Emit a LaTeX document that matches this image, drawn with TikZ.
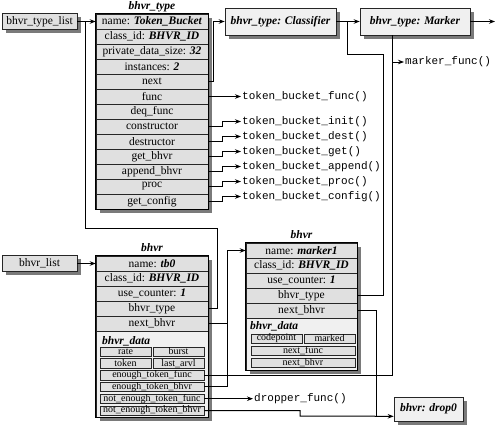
\documentclass[tikz,border=0pt]{standalone}
\usepackage{fontspec}
\setmainfont{Liberation Serif}
\setmonofont{Liberation Mono}
\usetikzlibrary{arrows.meta,calc,shadows}
\definecolor{rowgray}{HTML}{E0E0E0}
\definecolor{boxgray}{HTML}{F0F0F0}
\definecolor{shadowgray}{HTML}{7A7A7A}
\newcommand{\bfit}[1]{\textbf{\textit{#1}}}
\tikzset{
  rowbox/.style={draw=black!85, line width=0.6pt, fill=rowgray, minimum width=112pt, minimum height=15pt, inner sep=0pt, font=\fontsize{11.5}{12}\selectfont},
  mrowbox/.style={rowbox, minimum width=111pt},
  databox/.style={draw=black!85, line width=0.6pt, fill=boxgray, inner sep=0pt},
  innerbox/.style={draw=black!85, line width=0.5pt, fill=rowgray, minimum height=9.5pt, inner sep=0pt, font=\fontsize{10}{10}\selectfont},
  halfbox/.style={innerbox, minimum width=51pt},
  widebox/.style={innerbox, minimum width=104pt},
  title/.style={font=\fontsize{11.5}{12}\selectfont\bfseries\itshape, inner sep=0pt},
  shbox/.style={draw=black!85, line width=0.6pt, inner sep=0pt, drop shadow={shadow xshift=3.5pt, shadow yshift=-3.5pt, fill=shadowgray, opacity=1}},
  listbox/.style={shbox, fill=rowgray, minimum width=75pt, minimum height=16pt, font=\fontsize{11.5}{12}\selectfont},
  typebox/.style={shbox, fill=boxgray, minimum height=27pt, font=\fontsize{11.5}{12}\selectfont\bfseries\itshape},
  funclabel/.style={anchor=west, inner sep=1pt, font=\fontsize{11}{12}\ttfamily},
  conn/.style={line width=1pt, draw=black},
  arr/.style={conn, -{Stealth[length=6pt,width=4.5pt]}},
  frame/.style={line width=0.7pt, draw=black}
}
\begin{document}
\begin{tikzpicture}[x=1pt,y=-1pt]
\useasboundingbox (0,0) rectangle (500,429);

% ---------- bhvr_type table ----------
\node[title] (ttitle) at (152,6.5) {bhvr\_type};
\fill[shadowgray] (100,18) rectangle (212,213);
\foreach [count=\i] \t in {name: \bfit{Token\_Bucket}, class\_id: \bfit{BHVR\_ID}, private\_data\_size: \bfit{32}, instances: \bfit{2}, next, func, deq\_func, constructor, destructor, get\_bhvr, append\_bhvr, proc, get\_config}
  \node[rowbox] (t\i) at (152,6.5+15*\i) {\t};
\draw[frame] (t1.north west) rectangle (t13.south east);

\node[listbox] (typelist) at (39.5,21.5) {bhvr\_type\_list};
\node[typebox, minimum width=111pt] (classifier) at (280.5,21.5) {bhvr\_type: Classifier};
\node[typebox, minimum width=110pt] (marker) at (415,21.5) {bhvr\_type: Marker};
\coordinate (markerout) at (495,21.5);

% function labels
\node[funclabel] (lfunc) at (241,96.5) {token\_bucket\_func()};
\node[funclabel] (lab8) at (241,121.5) {token\_bucket\_init()};
\node[funclabel] (lab9) at (241,136.5) {token\_bucket\_dest()};
\node[funclabel] (lab10) at (241,151.5) {token\_bucket\_get()};
\node[funclabel] (lab11) at (241,166.5) {token\_bucket\_append()};
\node[funclabel] (lab12) at (241,181.5) {token\_bucket\_proc()};
\node[funclabel] (lab13) at (241,196.5) {token\_bucket\_config()};
\node[funclabel] (mfunc) at (404,62) {marker\_func()};
\coordinate (mbranch) at (392,62);

% ---------- bhvr tb0 ----------
\node[title] (btitle) at (152,248) {bhvr};
\fill[shadowgray] (100,259.5) rectangle (212,421);
\foreach [count=\i] \t in {name: \bfit{tb0}, class\_id: \bfit{BHVR\_ID}, use\_counter: \bfit{1}, bhvr\_type, next\_bhvr}
  \node[rowbox] (b\i) at (152,248.5+15*\i) {\t};
\node[databox, minimum width=112pt, minimum height=86pt] (bdata) at (152,374) {};
\node[title, anchor=west] (bdatalabel) at (102,341) {bhvr\_data};
\node[halfbox] (rate) at (125.5,351.5) {rate};
\node[halfbox] (burst) at (178.5,351.5) {burst};
\node[halfbox] (token) at (125.5,363.3) {token};
\node[halfbox] (lastarvl) at (178.5,363.3) {last\_arvl};
\node[widebox] (etf) at (152,375.1) {enough\_token\_func};
\node[widebox] (etb) at (152,386.9) {enough\_token\_bhvr};
\node[widebox] (netf) at (152,398.7) {not\_enough\_token\_func};
\node[widebox] (netb) at (152,410.5) {not\_enough\_token\_bhvr};
\draw[frame] (b1.north west) rectangle (bdata.south east);

\node[listbox] (bhvrlist) at (39.5,263.5) {bhvr\_list};

% ---------- bhvr marker1 ----------
\node[title] (mtitle) at (301.5,235) {bhvr};
\fill[shadowgray] (249.5,246.5) rectangle (360.5,373.5);
\foreach [count=\i] \t in {name: \bfit{marker1}, class\_id: \bfit{BHVR\_ID}, use\_counter: \bfit{1}, bhvr\_type, next\_bhvr}
  \node[mrowbox] (m\i) at (301.5,235.5+15*\i) {\t};
\node[databox, minimum width=111pt, minimum height=52pt] (mdata) at (301.5,344) {};
\node[title, anchor=west] (mdatalabel) at (250,326) {bhvr\_data};
\node[halfbox] (mcode) at (276.5,338.5) {codepoint};
\node[halfbox] (mmarked) at (329.5,338.5) {marked};
\node[widebox] (mnf) at (303,350.5) {next\_func};
\node[widebox] (mnb) at (303,362.5) {next\_bhvr};
\draw[frame] (m1.north west) rectangle (mdata.south east);

% ---------- drop0 ----------
\node[typebox, minimum width=69pt, minimum height=24pt] (drop0) at (428.5,409) {bhvr: drop0};
\coordinate (dropin) at ($(drop0.south west)+(0,-5)$);
\node[funclabel] (dfunc) at (253,398.7) {dropper\_func()};

% ---------- connectors ----------
\draw[arr] (typelist.east) -- (t1.west);
\draw[arr] (bhvrlist.east) -- (b1.west);
\draw[conn] (b4.east) -| (217,228) -- (85,228) -- (85,21.5);
\draw[arr] (t5.east) -- ++(5,0) |- (classifier.west);
\draw[arr] (classifier.east) -- (marker.west);
\draw[arr] (marker.east) -- (markerout);
\draw[conn] (m4.east) -| (383,54) -| (347,21.5);
\draw[conn] ($(marker.south)+(-23,0)$) |- (etf.east);
\draw[arr] (mbranch) -- (mfunc.west);
\draw[arr] (t6.east) -- (lfunc.west);
\foreach \i in {8,...,13}
  \draw[arr] (t\i.east) -- ++(14,0) |- (lab\i.west);
\draw[arr] (b5.east) -- ++(19,0) |- (m1.west);
\draw[conn] (etb.east) -| (227,323.5);
\draw[arr] (netf.east) -- (dfunc.west);
\draw[arr] (netb.east) -| (300,416) -- (dropin);
\draw[conn] (m5.east) -| (376,416);
\end{tikzpicture}
\end{document}
